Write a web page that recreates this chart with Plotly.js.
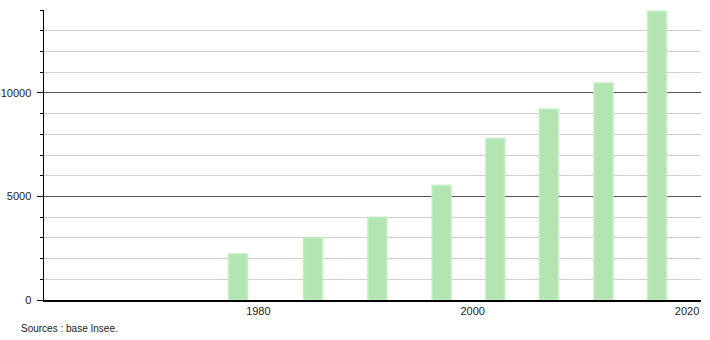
<!DOCTYPE html>
<html>
<head>
<meta charset="utf-8">
<script src="https://cdn.plot.ly/plotly-3.0.1.min.js"></script>
<style>html,body{margin:0;padding:0;background:#fff;}#chart{width:710px;height:340px;}</style>
</head>
<body>
<div id="chart"></div>
<script>
// Data
const years = [1978.1, 1985.1, 1991.1, 1997.1, 2002.1, 2007.1, 2012.2, 2017.2];
const population = [2220, 3000, 3980, 5530, 7800, 9210, 10470, 13940];
const xTickVals = [1980, 2000, 2020];
const xTickText = ['1980', '2000', '2020'];
const sourceText = 'Sources : base Insee.';

const trace = {
  type: 'bar',
  x: years,
  y: population,
  width: 1.75,
  marker: {color: '#b2e5b2', line: {color: 'rgba(190,235,190,0.7)', width: 2}},
  hoverinfo: 'x+y'
};

const layout = {
  width: 710, height: 340,
  margin: {l: 44, r: 9, t: 10, b: 40},
  paper_bgcolor: '#fff', plot_bgcolor: '#fff',
  showlegend: false,
  font: {family: 'Liberation Sans, Arial, sans-serif', size: 11, color: '#222'},
  xaxis: {
    range: [1960, 2021.3],
    tickvals: xTickVals, ticktext: xTickText,
    ticks: '', showgrid: false, zeroline: false,
    showline: true, linecolor: '#000', linewidth: 1.5,
    tickfont: {size: 11, color: '#222'}
  },
  yaxis: {
    range: [0, 14000],
    dtick: 5000, tick0: 0, tickformat: 'd',
    ticks: 'outside', ticklen: 6, tickcolor: '#000',
    ticklabelstandoff: 3,
    showgrid: true, gridcolor: '#555', gridwidth: 1,
    zeroline: false,
    showline: true, linecolor: '#000', linewidth: 1.5,
    tickfont: {size: 11, color: '#222'},
    minor: {dtick: 1000, tick0: 0, ticks: 'outside', ticklen: 3, tickcolor: '#000', showgrid: true, gridcolor: '#cfcfcf', gridwidth: 1}
  },
  annotations: [{
    text: sourceText, xref: 'paper', yref: 'paper',
    x: -44/657 + 19/657, y: 0, yshift: -21, xanchor: 'left', yanchor: 'top',
    showarrow: false, font: {size: 10, color: '#222'}
  }]
};

Plotly.newPlot('chart', [trace], layout, {displayModeBar: false, staticPlot: true});
</script>
</body>
</html>
